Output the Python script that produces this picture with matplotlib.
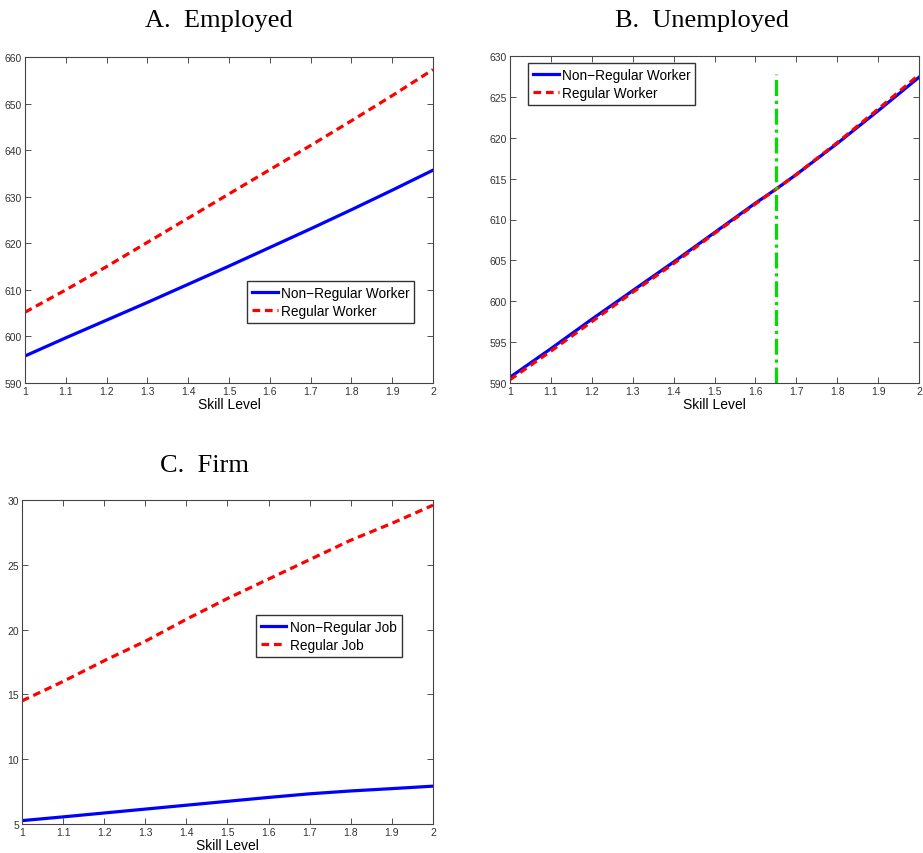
import matplotlib
matplotlib.use("Agg")
import matplotlib.pyplot as plt

plt.rcParams['font.family'] = ['Liberation Sans', 'DejaVu Sans']

skill = [1.0, 1.1, 1.2, 1.3, 1.4, 1.5, 1.6, 1.7, 1.8, 1.9, 2.0]

# Panel A: Employed
emp_nonreg = [595.8, 599.7, 603.5, 607.3, 611.2, 615.1, 619.1, 623.1, 627.2, 631.4, 635.7]
emp_reg = [605.2, 610.0, 615.0, 620.2, 625.4, 630.6, 635.8, 641.0, 646.3, 651.7, 657.3]

# Panel B: Unemployed
skill_b = [1.0, 1.1, 1.2, 1.3, 1.4, 1.5, 1.6, 1.65, 1.7, 1.8, 1.9, 2.0]
unemp_nonreg = [590.7, 594.2, 597.8, 601.3, 604.8, 608.4, 612.0, 613.7, 615.5, 619.3, 623.3, 627.4]
unemp_reg = [590.4, 593.9, 597.5, 601.1, 604.6, 608.3, 611.9, 613.7, 615.5, 619.4, 623.5, 627.7]
threshold = 1.65
threshold_top = 627.8

# Panel C: Firm
firm_nonreg = [5.26, 5.55, 5.85, 6.15, 6.45, 6.75, 7.05, 7.33, 7.55, 7.73, 7.92]
firm_reg = [14.5, 16.0, 17.6, 19.1, 20.8, 22.4, 23.9, 25.4, 26.9, 28.2, 29.6]

xticks = [1, 1.1, 1.2, 1.3, 1.4, 1.5, 1.6, 1.7, 1.8, 1.9, 2]
xticklabels = ['1', '1.1', '1.2', '1.3', '1.4', '1.5', '1.6', '1.7', '1.8', '1.9', '2']

W, H = 923, 854
fig = plt.figure(figsize=(W / 100, H / 100), dpi=100)


def px_axes(l, t, r, b):
    return fig.add_axes([l / W, (H - b) / H, (r - l) / W, (b - t) / H])


def style(ax, ylim, yticks):
    ax.set_xlim(1, 2)
    ax.set_ylim(*ylim)
    ax.set_xticks(xticks)
    ax.set_xticklabels(xticklabels)
    ax.set_yticks(yticks)
    ax.tick_params(direction='in', top=True, right=True, labelsize=7.5,
                   length=4, width=0.6, colors='#333333', pad=2)
    for s in ax.spines.values():
        s.set_color('#444444')
        s.set_linewidth(0.8)
    ax.set_xlabel('Skill Level', fontsize=10, labelpad=1)


lw = 2.3
dash = (0, (2.4, 1.5))
leg_kw = dict(loc='upper left', borderaxespad=0, fancybox=False,
              edgecolor='#333333', fontsize=9.8, handlelength=1.9,
              handletextpad=0.25, borderpad=0.35, labelspacing=0.32,
              framealpha=1)

axA = px_axes(25, 58, 433, 384)
axA.plot(skill, emp_nonreg, color='#0000ff', lw=lw, label='Non\u2212Regular Worker')
axA.plot(skill, emp_reg, color='#ff0000', lw=lw, ls=dash, label='Regular Worker')
style(axA, (590, 660), range(590, 661, 10))
axA.legend(bbox_to_anchor=(0.544, 0.313), **leg_kw)

axB = px_axes(510, 57, 919, 384)
axB.plot(skill_b, unemp_nonreg, color='#0000ff', lw=lw, label='Non\u2212Regular Worker')
axB.plot(skill_b, unemp_reg, color='#ff0000', lw=lw, ls=dash, label='Regular Worker')
axB.plot([threshold, threshold], [590, threshold_top], color='#00dd00', lw=2.3,
         ls=(0, (5, 1.5, 1, 1.5)))
style(axB, (590, 630), range(590, 631, 5))
axB.legend(bbox_to_anchor=(0.044, 0.979), **leg_kw)

axC = px_axes(22, 501, 433, 825)
axC.plot(skill, firm_nonreg, color='#0000ff', lw=lw, label='Non\u2212Regular Job')
axC.plot(skill, firm_reg, color='#ff0000', lw=lw, ls=dash, label='Regular Job')
style(axC, (5, 30), range(5, 31, 5))
axC.legend(bbox_to_anchor=(0.569, 0.645), **leg_kw)

tfont = dict(family=['Liberation Serif', 'DejaVu Serif'], fontsize=19,
             ha='center', va='center')
fig.text(219 / W, 1 - 21 / H, 'A.  Employed', **tfont)
fig.text(702 / W, 1 - 21 / H, 'B.  Unemployed', **tfont)
fig.text(204 / W, 1 - 466 / H, 'C.  Firm', **tfont)

fig.savefig('out.png', dpi=100)
